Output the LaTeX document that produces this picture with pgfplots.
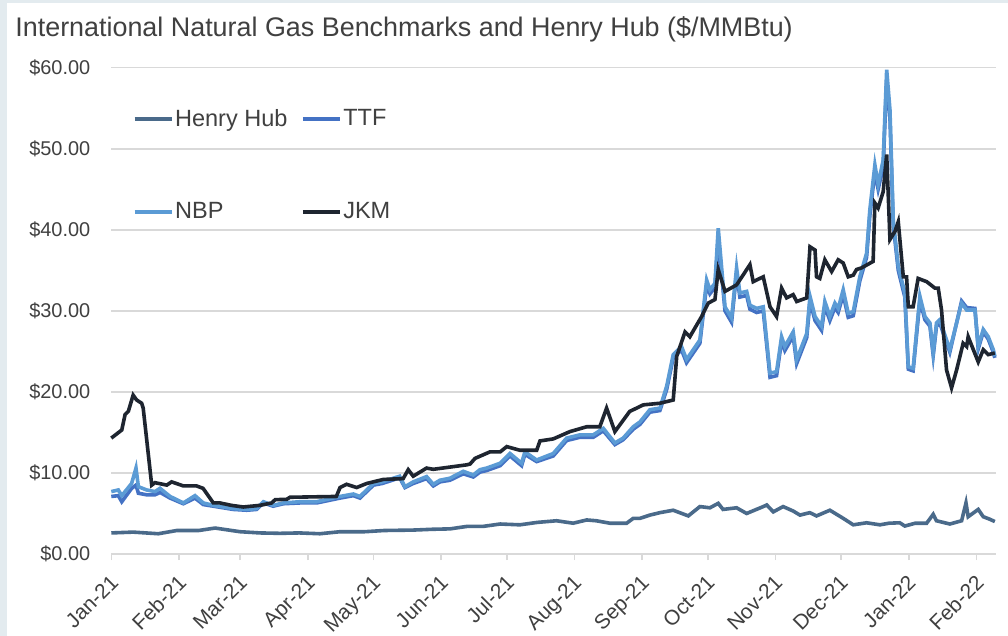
\documentclass[border=0pt]{standalone}
\usepackage{fontspec}
\setmainfont{Liberation Sans}
\usepackage{pgfplots}
\usepackage{pgfplotstable}
\pgfplotsset{compat=1.18}
\definecolor{hhcol}{RGB}{74,106,138}
\definecolor{ttfcol}{RGB}{68,114,196}
\definecolor{nbpcol}{RGB}{91,155,213}
\definecolor{jkmcol}{RGB}{30,37,48}
\definecolor{gridgray}{RGB}{217,217,217}
\definecolor{textgray}{RGB}{64,64,64}
\definecolor{bgcol}{RGB}{227,235,239}

\pgfplotstableread{
d v
0 2.6
10 2.7
21.5 2.5
30 2.9
40 2.9
47.5 3.2
58.9 2.75
68 2.6
77.2 2.55
86 2.6
95.5 2.5
104.7 2.75
116 2.75
125 2.9
138 2.95
147 3.05
155 3.1
162.7 3.4
170 3.4
178 3.7
187 3.6
195 3.9
203.8 4.1
211.4 3.8
217.6 4.2
222 4.1
228.2 3.8
235.9 3.8
238.9 4.4
242 4.4
246.5 4.8
251.1 5.1
257.2 5.4
264.1 4.7
269.4 5.85
274 5.7
277.8 6.25
280 5.5
286.2 5.7
290.8 5.0
298.4 5.85
300 6.05
303 5.2
307.5 5.85
312.1 5.3
315.2 4.8
319.7 5.1
322.8 4.7
328.9 5.4
335 4.4
339.6 3.6
345.7 3.85
351.8 3.6
356 3.8
360.9 3.85
363.2 3.45
368 3.8
373.2 3.8
376.2 4.9
377.7 4.1
383.8 3.7
389.2 4.1
391.2 6.3
392.2 4.6
396.8 5.5
399.1 4.6
402 4.3
404.4 4.0
}\hh

\pgfplotstableread{
d v
0 7.1
3.2 7.2
4.8 6.45
9.3 8.1
11.3 8.5
12.4 7.5
16.2 7.3
20 7.3
22.3 7.6
26.9 6.9
33 6.2
38.3 6.9
42.1 6.1
46.7 5.9
55.8 5.5
62 5.4
66.5 5.5
69.6 6.3
74.1 5.9
78.7 6.2
86.4 6.3
94 6.3
104.7 6.9
110.8 7.2
113.8 6.9
120 8.5
124 8.7
132 9.4
134.4 8.2
138.2 8.7
144.3 9.3
147.4 8.4
150.4 8.9
155 9.1
161.1 9.9
165.7 9.5
168.7 10.1
171.8 10.3
178 10.9
182.5 12.1
187.8 10.9
189.3 12.3
194.7 11.4
202.3 12.1
208.4 14.0
214.5 14.4
220.6 14.4
225.2 15.2
230.5 13.5
234.3 14.1
238.9 15.4
242 16.0
246.5 17.5
251.1 17.7
254.2 20.3
257.2 24.2
261 25.2
263.3 23.6
269.4 26.0
272.5 33.2
274 32.1
276.3 32.9
277.8 39.0
280.9 30.0
283.9 28.6
286.2 34.7
287.7 31.7
290.8 31.9
292.3 30.2
295.4 29.8
298.4 30.0
301.5 21.8
304.5 22.0
306.8 26.3
308.3 25.1
312.1 26.9
313.7 23.5
318.3 26.7
319.8 31.2
322.1 28.8
325.1 27.6
326.6 30.6
328.9 28.8
331.2 30.4
332.7 29.8
335 32.0
337.3 29.2
339.6 29.4
342.6 33.7
345.7 36.6
347.2 41.8
349.5 47.2
351 45.0
353.3 47.8
354.9 58.5
356.4 53.8
357.9 40.6
360.2 35.0
363.2 31.7
364.8 22.8
367 22.6
370.1 31.3
372.4 28.9
374.7 28.1
376.2 24.5
377.7 28.1
379.2 28.5
383.8 24.9
389.2 31.2
391.5 30.4
395.3 30.3
396.8 25.3
399.1 27.4
401.4 26.5
403.7 24.9
404.4 24.2
}\ttf

\pgfplotstableread{
d v
0 7.7
3.2 7.9
4.8 7.2
9.3 8.7
11.3 10.6
12.4 8.3
16.2 7.9
20 7.7
22.3 8.1
26.9 7.1
33 6.3
38.3 7.2
42.1 6.3
46.7 6.0
55.8 5.6
62 5.5
66.5 5.6
69.6 6.45
74.1 6.0
78.7 6.3
86.4 6.45
94 6.45
104.7 7.1
110.8 7.4
113.8 7.1
120 8.7
124 8.9
132 9.6
134.4 8.3
138.2 8.9
144.3 9.55
147.4 8.6
150.4 9.1
155 9.35
161.1 10.2
165.7 9.75
168.7 10.4
171.8 10.6
178 11.2
182.5 12.4
187.8 11.2
189.3 12.6
194.7 11.6
202.3 12.4
208.4 14.3
214.5 14.7
220.6 14.7
225.2 15.5
230.5 13.7
234.3 14.3
238.9 15.7
242 16.3
246.5 17.8
251.1 18.0
254.2 20.7
257.2 24.6
261 25.6
263.3 24.0
269.4 26.4
272.5 33.8
274 32.6
276.3 33.4
277.8 40.2
280.9 30.5
283.9 29.1
286.2 35.3
287.7 32.2
290.8 32.4
292.3 30.7
295.4 30.3
298.4 30.5
301.5 22.3
304.5 22.5
306.8 26.8
308.3 25.6
312.1 27.4
313.7 24.0
318.3 27.2
319.8 31.8
322.1 29.3
325.1 28.1
326.6 31.15
328.9 29.3
331.2 30.95
332.7 30.3
335 32.6
337.3 29.7
339.6 29.9
342.6 34.2
345.7 37.1
347.2 42.5
349.5 48.0
351 45.6
353.3 48.6
354.9 59.75
356.4 54.8
357.9 41.2
360.2 35.5
363.2 32.2
364.8 23.1
367 22.9
370.1 31.8
372.4 29.3
374.7 28.5
376.2 24.8
377.7 28.5
379.2 28.9
383.8 25.2
389.2 30.95
391.5 30.1
395.3 30.1
396.8 25.6
399.1 27.7
401.4 26.8
403.7 25.2
404.4 24.4
}\nbp

\pgfplotstableread{
d v
0 14.3
4.8 15.3
6.3 17.2
7.8 17.6
10 19.6
11.6 19.0
13.9 18.6
14.6 18.0
18.5 8.5
20 8.8
25.4 8.5
27.6 8.9
33 8.4
39 8.4
42 8.1
46.7 6.3
49.7 6.3
55 6.0
60.4 5.8
68 6.0
73.4 6.3
75 6.7
80.3 6.75
81.8 7.0
103 7.1
104.7 8.2
107.7 8.6
112.3 8.2
116.9 8.7
124.5 9.2
133.6 9.3
135.9 10.4
138.2 9.6
144.3 10.6
147.4 10.45
162.7 11.0
164.2 11.1
166.5 11.8
173.3 12.6
178 12.6
181 13.25
187 12.8
194.7 12.8
196.2 13.95
202.3 14.2
209.9 15.1
217.6 15.7
223.6 15.7
226.7 18.0
230.5 15.1
237.3 17.6
238.9 17.8
243.5 18.4
251.1 18.6
257.2 19.0
258.8 24.4
262.6 27.4
264.8 26.8
270.2 29.3
273.2 30.95
276.3 31.4
277.8 35.1
280.9 32.4
286.2 33.2
292.3 35.7
293.8 33.6
298.4 34.2
301.5 30.5
304.5 29.3
306.8 32.8
309.1 31.6
312.1 32.0
313.7 31.15
318.3 31.6
319.8 37.9
322.1 37.5
322.8 34.2
324.3 34.0
326.6 36.3
329.7 34.85
332.7 36.3
335 35.9
337.3 34.2
339.6 34.4
341.1 35.1
343.4 35.3
348.7 36.1
349.5 43.3
351 42.7
353.3 44.7
354.9 49.3
356.4 38.8
358.7 39.8
360.2 41.0
362.5 34.2
364.0 34.2
364.8 30.5
367.0 30.5
369.3 34.0
373.2 33.6
377 32.8
378.5 32.8
380.0 30.1
382.3 22.7
384.6 20.5
386.9 22.7
389.9 26.0
391.5 25.6
392.2 26.8
396.8 23.7
399.1 25.2
401.4 24.6
404.4 24.8
}\jkm

\begin{document}
\begin{tikzpicture}
\path[use as bounding box] (0,0) rectangle (504bp,318bp);
\fill[bgcol] (0,0) rectangle (504bp,318bp);
\fill[white] (3.7bp,0) rectangle (504bp,316.3bp);
\node[anchor=base west, inner sep=0pt, text=textgray, font=\fontsize{13.5}{15}\selectfont] at (7.5bp,299.7bp) {International Natural Gas Benchmarks and Henry Hub (\$/MMBtu)};
\begin{axis}[
  at={(55.65bp,41bp)}, anchor=south west,
  scale only axis, width=442.2bp, height=243.15bp,
  xmin=0, xmax=404.8, ymin=0, ymax=60,
  clip=false,
  axis x line*=bottom, axis y line*=left,
  x axis line style={-, draw=gridgray, line width=0.8bp},
  y axis line style={draw=none},
  ytick={0,10,20,30,40,50,60},
  yticklabels={\$0.00,\$10.00,\$20.00,\$30.00,\$40.00,\$50.00,\$60.00},
  xtick={0,31,59,90,120,151,181,212,243,273,304,334,365,396},
  xticklabels={Jan-21,Feb-21,Mar-21,Apr-21,May-21,Jun-21,Jul-21,Aug-21,Sep-21,Oct-21,Nov-21,Dec-21,Jan-22,Feb-22},
  ymajorgrids, grid style={draw=gridgray, line width=0.8bp},
  ytick style={draw=none},
  xtick style={draw=gridgray, line width=0.8bp},
  tick align=outside, major tick length=3bp,
  xticklabel style={rotate=45, anchor=north east, font=\fontsize{10.5}{12}\selectfont, text=textgray, inner sep=0pt, xshift=-5.4bp, yshift=-3.9bp},
  yticklabel style={font=\fontsize{10}{12}\selectfont, text=textgray, xshift=-4bp},
  legend columns=2,
  legend style={at={(0.024,0.932)}, anchor=north west, draw=none, fill=none,
    font=\fontsize{11.8}{13}\selectfont, text=textgray,
    row sep=32.5bp, column sep=0bp, inner xsep=0pt,
    nodes={inner xsep=0.8bp},
    /tikz/every even column/.append style={column sep=6bp}},
  legend cell align=left,
  legend image code/.code={\draw[#1] (0bp,0bp) -- (18.5bp,0bp);},
]
\addplot[hhcol, line width=1.8bp] table[x=d,y=v]{\hh};
\addlegendentry{Henry Hub}
\addplot[ttfcol, line width=1.8bp] table[x=d,y=v]{\ttf};
\addlegendentry{TTF}
\addplot[nbpcol, line width=1.8bp] table[x=d,y=v]{\nbp};
\addlegendentry{NBP}
\addplot[jkmcol, line width=1.8bp] table[x=d,y=v]{\jkm};
\addlegendentry{JKM}
\end{axis}
\end{tikzpicture}
\end{document}
